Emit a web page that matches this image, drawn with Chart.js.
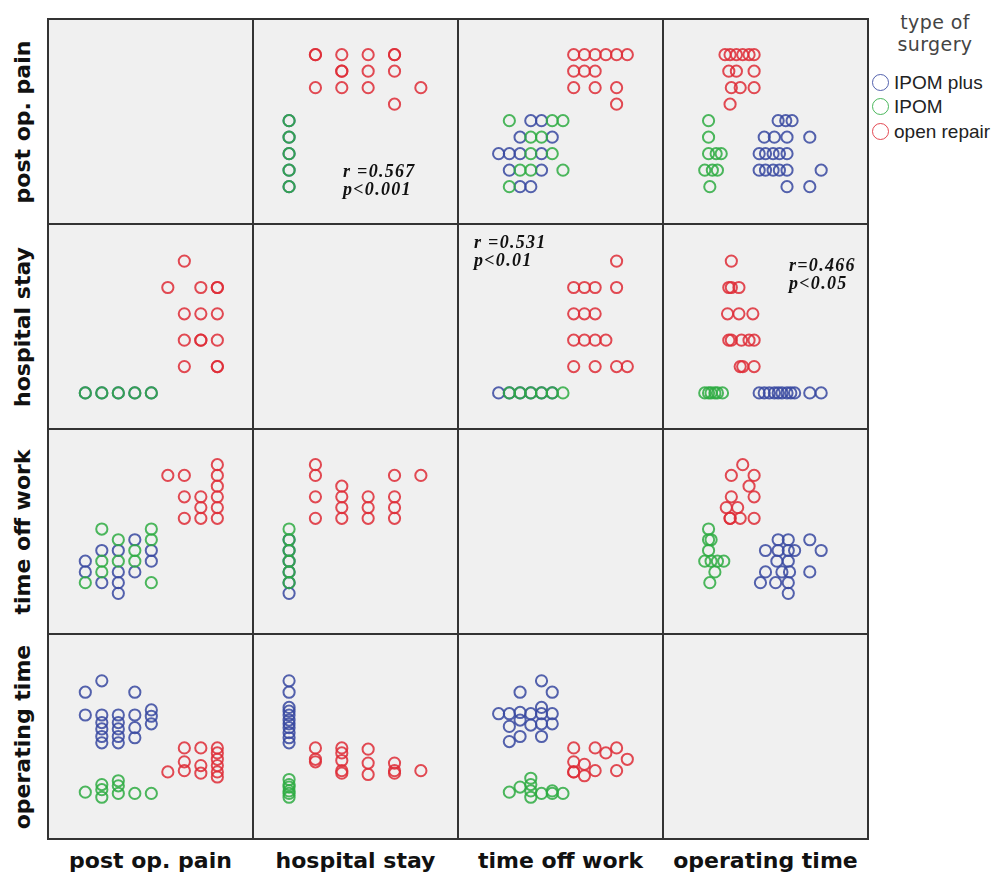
<!DOCTYPE html>
<html>
<head>
<meta charset="utf-8">
<script src="https://cdn.jsdelivr.net/npm/chart.js@4.4.1/dist/chart.umd.min.js"></script>
<style>
  body { margin: 0; background: #fff; }
  #wrap { position: relative; width: 1000px; height: 879px; overflow: hidden; }
  #wrap canvas { position: absolute; }
  .frame { position: absolute; left: 47px; top: 18px; width: 820px; height: 820px; border: 1px solid #333; pointer-events: none; }
  .xlab, .ylab { position: absolute; font-family: "DejaVu Sans", sans-serif; font-weight: bold; font-size: 22px; color: #111; text-align: center; white-space: nowrap; line-height: 26px; }
  .xlab { width: 205px; top: 848px; }
  .ylab { width: 205px; height: 26px; transform: rotate(-90deg); }
  .note { position: absolute; font-family: "Liberation Serif", serif; font-weight: bold; font-style: italic; font-size: 18px; line-height: 18px; color: #111; white-space: nowrap; letter-spacing: 1.3px; }
  .legtitle { position: absolute; left: 880px; width: 110px; top: 11px; text-align: center; font-family: "DejaVu Sans", sans-serif; font-size: 19px; line-height: 22px; color: #444; letter-spacing: 0.4px; }
  .legtext { position: absolute; left: 894px; font-family: "Liberation Sans", Arial, sans-serif; font-size: 19px; line-height: 24px; color: #222; white-space: nowrap; }
  .legdot { position: absolute; width: 15px; height: 15px; border-radius: 50%; border: 1.5px solid; }
</style>
</head>
<body>
<div id="wrap"></div>
<script>
// variables of the matrix, in row / column order
const varNames = ['post op. pain', 'hospital stay', 'time off work', 'operating time'];
const groupNames = ['IPOM plus', 'IPOM', 'open repair'];

// axis ranges (pain score, days in hospital, time off work level, minutes)
const axisMin = [-0.8, -0.08, -2.08, 0];
const axisMax = [10.7, 7.12, 15.62, 150];

// pain (y) against hospital stay (x)
const stayPainPlus = [[1,1],[1,2],[1,3],[1,4],[1,5]];
const stayPainIpom = [[1,1],[1,2],[1,3],[1,4],[1,5]];
const stayPainOpen = [[2,9],[2,9],[3,9],[4,9],[5,9],[5,9],[3,8],[3,8],[4,8],[5,8],[2,7],[3,7],[4,7],[6,7],[5,6]];

// pain (y) against time off work (x)
const workPainPlus = [[3,1],[4,1],[2,2],[5,2],[1,3],[2,3],[3,3],[5,3],[3,4],[6,4],[4,5],[5,5]];
const workPainIpom = [[2,1],[3,2],[4,2],[7,2],[4,3],[6,3],[4,4],[5,4],[2,5],[6,5],[7,5]];
const workPainOpen = [[8,9],[9,9],[10,9],[11,9],[12,9],[13,9],[8,8],[9,8],[10,8],[8,7],[10,7],[12,7],[12,6]];

// pain (y) against operating time (x)
const opPainPlus = [[85,5],[91,5],[96,5],[74,4],[82,4],[92,4],[110,4],[70,3],[75,3],[81,3],[86,3],[92,3],
                    [70,2],[75,2],[81,2],[86,2],[92,2],[119,2],[92,1],[110,1]];
const opPainIpom = [[30,5],[30,4],[30,3],[36,3],[40,3],[27,2],[33,2],[37,2],[31,1]];
const opPainOpen = [[43,9],[47,9],[52,9],[57,9],[62,9],[66,9],[46,8],[52,8],[66,8],[48,7],[55,7],[66,7],[47,6]];

// hospital stay (y) against time off work (x)
const workStayPlus = [[1,1],[2,1],[3,1],[4,1],[5,1],[6,1]];
const workStayIpom = [[2,1],[3,1],[4,1],[5,1],[6,1],[7,1]];
const workStayOpen = [[12,6],[8,5],[9,5],[10,5],[12,5],[8,4],[9,4],[10,4],[8,3],[9,3],[10,3],[11,3],
                      [8,2],[10,2],[12,2],[13,2]];

// hospital stay (y) against operating time (x)
const opStayPlus = [[70,1],[74,1],[78,1],[82,1],[85,1],[88,1],[92,1],[95,1],[98,1],[110,1],[119,1]];
const opStayIpom = [[27,1],[30,1],[32,1],[35,1],[37,1],[41,1]];
const opStayOpen = [[48,6],[46,5],[48,5],[54,5],[45,4],[54,4],[65,4],[46,3],[48,3],[56,3],[62,3],[66,3],
                    [55,2],[57,2],[66,2]];

// time off work (y) against operating time (x)
const opWorkPlus = [[85,6],[93,6],[110,6],[75,5],[85,5],[93,5],[98,5],[119,5],[84,4],[93,4],[75,3],[88,3],
                    [94,3],[110,3],[71,2],[83,2],[93,2],[93,1]];
const opWorkIpom = [[30,7],[30,6],[32,6],[30,5],[27,4],[32,4],[37,4],[42,4],[35,3],[31,2]];
const opWorkOpen = [[57,13],[48,12],[66,12],[62,11],[48,10],[66,10],[44,9],[53,9],[47,8],[47,8],[55,8],[66,8]];

// correlation notes shown in the upper panels
const notes = [
  { text: ['r =0.567', 'p<0.001'], left: 343, top: 162 },
  { text: ['r =0.531', 'p<0.01'], left: 474, top: 233 },
  { text: ['r=0.466', 'p<0.05'], left: 789, top: 256 }
];

const colors = ['rgba(55,72,160,0.85)', 'rgba(46,172,66,0.85)', 'rgba(222,44,54,0.85)'];

// [plus, ipom, open] for each pair "rowVar colVar" (upper triangle)
const pairTable = {
  '01': [stayPainPlus, stayPainIpom, stayPainOpen],
  '02': [workPainPlus, workPainIpom, workPainOpen],
  '03': [opPainPlus, opPainIpom, opPainOpen],
  '12': [workStayPlus, workStayIpom, workStayOpen],
  '13': [opStayPlus, opStayIpom, opStayOpen],
  '23': [opWorkPlus, opWorkIpom, opWorkOpen]
};

const panelFrame = {
  id: 'panelFrame',
  beforeDraw(chart) {
    const { ctx, width, height } = chart;
    ctx.save();
    ctx.fillStyle = '#f0f0f0';
    ctx.fillRect(0, 0, width, height);
    ctx.restore();
  },
  afterDraw(chart) {
    const { ctx, width, height } = chart;
    ctx.save();
    ctx.strokeStyle = '#333';
    ctx.lineWidth = 1;
    ctx.strokeRect(0.5, 0.5, width - 1, height - 1);
    ctx.restore();
  }
};

const wrap = document.getElementById('wrap');
const gridLeft = 48, gridTop = 19, cell = 205;

function panelSets(r, c) {
  if (r === c) return [[], [], []];
  const key = Math.min(r, c) + '' + Math.max(r, c);
  const sets = pairTable[key];
  return sets.map(pts => pts.map(([a, b]) => r < c ? { x: a, y: b } : { x: b, y: a }));
}

for (let r = 0; r < 4; r++) {
  for (let c = 0; c < 4; c++) {
    const canvas = document.createElement('canvas');
    canvas.width = cell;
    canvas.height = cell;
    canvas.style.left = (gridLeft + c * cell) + 'px';
    canvas.style.top = (gridTop + r * cell) + 'px';
    canvas.style.width = cell + 'px';
    canvas.style.height = cell + 'px';
    wrap.appendChild(canvas);

    const sets = panelSets(r, c);
    // ipom first so it is drawn on top of ipom plus
    const order = [1, 0, 2];
    new Chart(canvas.getContext('2d'), {
      type: 'scatter',
      data: {
        datasets: order.map(g => ({
          label: groupNames[g],
          data: sets[g],
          pointStyle: 'circle',
          pointRadius: 5.6,
          pointBorderWidth: 2,
          pointBorderColor: colors[g],
          pointBackgroundColor: 'rgba(0,0,0,0)'
        }))
      },
      options: {
        responsive: false,
        animation: false,
        events: [],
        layout: { padding: 0 },
        plugins: { legend: { display: false }, tooltip: { enabled: false } },
        scales: {
          x: { type: 'linear', display: false, min: axisMin[c], max: axisMax[c] },
          y: { type: 'linear', display: false, min: axisMin[r], max: axisMax[r] }
        }
      },
      plugins: [panelFrame]
    });
  }
}

const frame = document.createElement('div');
frame.className = 'frame';
wrap.appendChild(frame);

varNames.forEach((name, i) => {
  const xl = document.createElement('div');
  xl.className = 'xlab';
  xl.textContent = name;
  xl.style.left = (gridLeft + i * cell) + 'px';
  wrap.appendChild(xl);

  const yl = document.createElement('div');
  yl.className = 'ylab';
  yl.textContent = name;
  yl.style.left = (22 - cell / 2) + 'px';
  yl.style.top = (gridTop + i * cell + cell / 2 - 13) + 'px';
  wrap.appendChild(yl);
});

notes.forEach(n => {
  const d = document.createElement('div');
  d.className = 'note';
  d.style.left = n.left + 'px';
  d.style.top = n.top + 'px';
  d.innerHTML = n.text.join('<br>');
  wrap.appendChild(d);
});

const lt = document.createElement('div');
lt.className = 'legtitle';
lt.innerHTML = 'type of<br>surgery';
wrap.appendChild(lt);

const legY = [83, 107, 132];
groupNames.forEach((g, i) => {
  const dot = document.createElement('div');
  dot.className = 'legdot';
  dot.style.borderColor = colors[i];
  dot.style.left = (881 - 9) + 'px';
  dot.style.top = (legY[i] - 9) + 'px';
  wrap.appendChild(dot);

  const t = document.createElement('div');
  t.className = 'legtext';
  t.textContent = g;
  t.style.top = (legY[i] - 12) + 'px';
  wrap.appendChild(t);
});
</script>
</body>
</html>
